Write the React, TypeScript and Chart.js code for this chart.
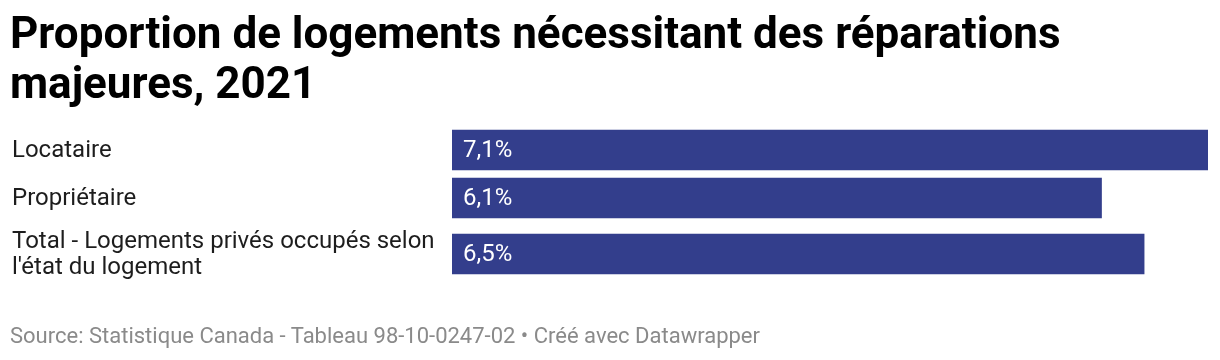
import React, { useEffect, useRef } from "react";
import { Chart, registerables } from "chart.js";

Chart.register(...registerables);

const categories: string[][] = [
  ["Locataire"],
  ["Propriétaire"],
  ["Total - Logements privés occupés selon", "l'état du logement"],
];
const values: number[] = [7.1, 6.1, 6.5];
const valueLabels: string[] = ["7,1%", "6,1%", "6,5%"];

const TITLE = "Proportion de logements nécessitant des réparations majeures, 2021";
const FOOTER = "Source: Statistique Canada - Tableau 98-10-0247-02 • Créé avec Datawrapper";

const BAR_COLOR = "#333e8c";
const FONT = "Roboto, 'Noto Sans', sans-serif";

// row layout: one row per category, taller when the label wraps
const ROW_BASE = 48;
const ROW_EXTRA = 16;
const rowHeights = categories.map((c) => ROW_BASE + ROW_EXTRA * (c.length - 1));
const rowCenters: number[] = [];
{
  let acc = 0;
  for (const h of rowHeights) {
    rowCenters.push(acc + h / 2);
    acc += h;
  }
}
const totalRows = rowHeights.reduce((a, b) => a + b, 0);

const labelsPlugin = {
  id: "rowLabels",
  afterDatasetsDraw(chart: any) {
    const ctx = chart.ctx;
    const meta = chart.getDatasetMeta(0);
    ctx.save();
    meta.data.forEach((bar: any, i: number) => {
      const y = bar.y + 1;
      const lines = categories[i];
      const lh = 26;
      ctx.font = `400 24px ${FONT}`;
      ctx.fillStyle = "#1d1d1d";
      ctx.textAlign = "left";
      ctx.textBaseline = "middle";
      const start = y - ((lines.length - 1) * lh) / 2;
      lines.forEach((ln, k) => ctx.fillText(ln, 12, start + k * lh));
      ctx.fillStyle = "#ffffff";
      ctx.fillText(valueLabels[i], bar.base + 11, y);
    });
    ctx.restore();
  },
};

export default function App() {
  const ref = useRef<HTMLCanvasElement>(null);

  useEffect(() => {
    document.body.style.margin = "0";
    const canvas = ref.current!;
    const chart = new Chart(canvas, {
      type: "bar",
      data: {
        datasets: [
          {
            data: values.map((v, i) => ({ x: v, y: rowCenters[i] })),
            backgroundColor: BAR_COLOR,
            borderWidth: 0,
            barThickness: 40,
          },
        ],
      },
      options: {
        indexAxis: "y",
        animation: false,
        responsive: false,
        maintainAspectRatio: false,
        layout: { padding: { left: 452, right: 12, top: 126, bottom: 74 } },
        scales: {
          x: { type: "linear", min: 0, max: Math.max(...values), display: false },
          y: { type: "linear", min: 0, max: totalRows, reverse: true, offset: false, display: false },
        },
        plugins: {
          legend: { display: false },
          tooltip: { enabled: false },
          title: { display: false },
        },
      },
      plugins: [labelsPlugin],
    });
    return () => chart.destroy();
  }, []);

  return (
    <div style={{ position: "relative", width: 1220, height: 360, background: "#fff", overflow: "hidden" }}>
      <canvas ref={ref} width={1220} height={360} style={{ position: "absolute", left: 0, top: 0 }} />
      <div
        style={{
          position: "absolute",
          left: 10,
          top: 8,
          width: 1150,
          fontFamily: FONT,
          fontWeight: 700,
          fontSize: 44,
          lineHeight: "50px",
          color: "#000",
        }}
      >
        {TITLE}
      </div>
      <div
        style={{
          position: "absolute",
          left: 10,
          top: 323,
          fontFamily: FONT,
          fontSize: 22,
          lineHeight: "26px",
          color: "#8a8a8a",
          whiteSpace: "nowrap",
        }}
      >
        {FOOTER}
      </div>
    </div>
  );
}
